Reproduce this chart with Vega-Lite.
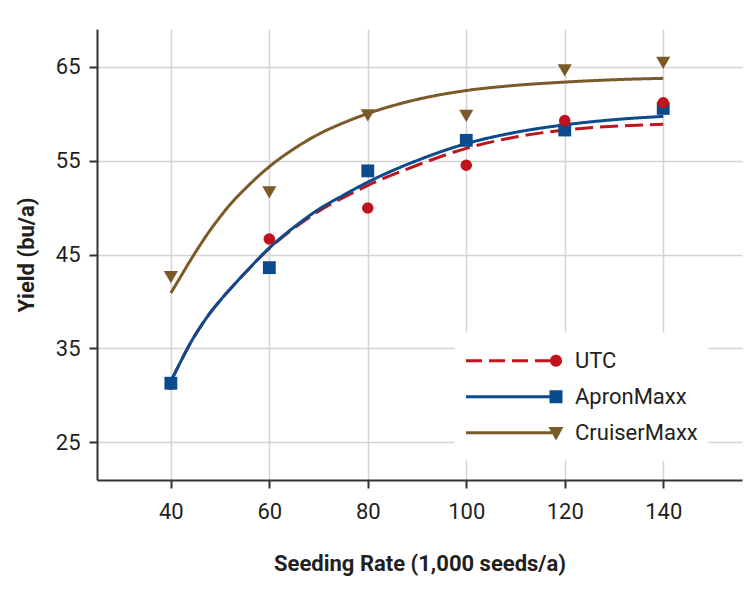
{
  "$schema": "https://vega.github.io/schema/vega-lite/v6.json",
  "width": 645,
  "height": 451,
  "autosize": {"type": "none"},
  "padding": {"left": 97, "top": 29, "right": 8, "bottom": 120},
  "background": "white",
  "datasets": {
    "curves": [
      {"rate": 40, "yield": 40.9, "series": "CruiserMaxx"},
      {"rate": 42, "yield": 42.65, "series": "CruiserMaxx"},
      {"rate": 44, "yield": 44.4, "series": "CruiserMaxx"},
      {"rate": 46, "yield": 46.05, "series": "CruiserMaxx"},
      {"rate": 48, "yield": 47.6, "series": "CruiserMaxx"},
      {"rate": 50, "yield": 49.0, "series": "CruiserMaxx"},
      {"rate": 52, "yield": 50.3, "series": "CruiserMaxx"},
      {"rate": 55, "yield": 51.95, "series": "CruiserMaxx"},
      {"rate": 60, "yield": 54.35, "series": "CruiserMaxx"},
      {"rate": 65, "yield": 56.25, "series": "CruiserMaxx"},
      {"rate": 70, "yield": 57.8, "series": "CruiserMaxx"},
      {"rate": 75, "yield": 59.0, "series": "CruiserMaxx"},
      {"rate": 80, "yield": 60.0, "series": "CruiserMaxx"},
      {"rate": 90, "yield": 61.5, "series": "CruiserMaxx"},
      {"rate": 100, "yield": 62.45, "series": "CruiserMaxx"},
      {"rate": 110, "yield": 63.0, "series": "CruiserMaxx"},
      {"rate": 120, "yield": 63.35, "series": "CruiserMaxx"},
      {"rate": 130, "yield": 63.6, "series": "CruiserMaxx"},
      {"rate": 140, "yield": 63.75, "series": "CruiserMaxx"},
      {"rate": 40, "yield": 31.5, "series": "UTC"},
      {"rate": 42, "yield": 33.6, "series": "UTC"},
      {"rate": 44, "yield": 35.6, "series": "UTC"},
      {"rate": 46, "yield": 37.3, "series": "UTC"},
      {"rate": 48, "yield": 38.8, "series": "UTC"},
      {"rate": 50, "yield": 40.1, "series": "UTC"},
      {"rate": 52, "yield": 41.3, "series": "UTC"},
      {"rate": 55, "yield": 43.0, "series": "UTC"},
      {"rate": 60, "yield": 45.65, "series": "UTC"},
      {"rate": 65, "yield": 47.8, "series": "UTC"},
      {"rate": 70, "yield": 49.6, "series": "UTC"},
      {"rate": 75, "yield": 51.05, "series": "UTC"},
      {"rate": 80, "yield": 52.35, "series": "UTC"},
      {"rate": 90, "yield": 54.5, "series": "UTC"},
      {"rate": 100, "yield": 56.3, "series": "UTC"},
      {"rate": 110, "yield": 57.5, "series": "UTC"},
      {"rate": 120, "yield": 58.25, "series": "UTC"},
      {"rate": 130, "yield": 58.65, "series": "UTC"},
      {"rate": 140, "yield": 58.85, "series": "UTC"},
      {"rate": 40, "yield": 31.5, "series": "ApronMaxx"},
      {"rate": 42, "yield": 33.6, "series": "ApronMaxx"},
      {"rate": 44, "yield": 35.6, "series": "ApronMaxx"},
      {"rate": 46, "yield": 37.3, "series": "ApronMaxx"},
      {"rate": 48, "yield": 38.8, "series": "ApronMaxx"},
      {"rate": 50, "yield": 40.1, "series": "ApronMaxx"},
      {"rate": 52, "yield": 41.3, "series": "ApronMaxx"},
      {"rate": 55, "yield": 43.0, "series": "ApronMaxx"},
      {"rate": 60, "yield": 45.7, "series": "ApronMaxx"},
      {"rate": 65, "yield": 47.9, "series": "ApronMaxx"},
      {"rate": 70, "yield": 49.8, "series": "ApronMaxx"},
      {"rate": 75, "yield": 51.3, "series": "ApronMaxx"},
      {"rate": 80, "yield": 52.7, "series": "ApronMaxx"},
      {"rate": 90, "yield": 55.0, "series": "ApronMaxx"},
      {"rate": 100, "yield": 56.8, "series": "ApronMaxx"},
      {"rate": 110, "yield": 58.0, "series": "ApronMaxx"},
      {"rate": 120, "yield": 58.8, "series": "ApronMaxx"},
      {"rate": 130, "yield": 59.35, "series": "ApronMaxx"},
      {"rate": 140, "yield": 59.7, "series": "ApronMaxx"}
    ],
    "points": [
      {"rate": 40, "yield": 42.6, "series": "CruiserMaxx"},
      {"rate": 60, "yield": 51.6, "series": "CruiserMaxx"},
      {"rate": 80, "yield": 59.8, "series": "CruiserMaxx"},
      {"rate": 100, "yield": 59.75, "series": "CruiserMaxx"},
      {"rate": 120, "yield": 64.6, "series": "CruiserMaxx"},
      {"rate": 140, "yield": 65.4, "series": "CruiserMaxx"},
      {"rate": 40, "yield": 31.2, "series": "UTC"},
      {"rate": 40, "yield": 31.3, "series": "ApronMaxx"},
      {"rate": 60, "yield": 43.6, "series": "ApronMaxx"},
      {"rate": 80, "yield": 53.9, "series": "ApronMaxx"},
      {"rate": 100, "yield": 57.15, "series": "ApronMaxx"},
      {"rate": 120, "yield": 58.25, "series": "ApronMaxx"},
      {"rate": 140, "yield": 60.55, "series": "ApronMaxx"},
      {"rate": 60, "yield": 46.65, "series": "UTC"},
      {"rate": 80, "yield": 49.95, "series": "UTC"},
      {"rate": 100, "yield": 54.5, "series": "UTC"},
      {"rate": 120, "yield": 59.25, "series": "UTC"},
      {"rate": 140, "yield": 61.15, "series": "UTC"}
    ]
  },
  "encoding": {
    "x": {
      "field": "rate", "type": "quantitative",
      "scale": {"domain": [25, 156], "nice": false, "zero": false},
      "axis": {
        "values": [40, 60, 80, 100, 120, 140],
        "labelPadding": 13,
        "title": "Seeding Rate (1,000 seeds/a)",
        "titleY": 90,
        "titleBaseline": "alphabetic"
      }
    },
    "y": {
      "field": "yield", "type": "quantitative",
      "scale": {"domain": [21, 69], "nice": false, "zero": false},
      "axis": {
        "values": [25, 35, 45, 55, 65],
        "labelPadding": 9,
        "title": "Yield (bu/a)",
        "titleX": -63.5,
        "titleY": 225.5,
        "titleBaseline": "alphabetic"
      }
    },
    "color": {
      "field": "series", "type": "nominal",
      "scale": {"domain": ["UTC", "ApronMaxx", "CruiserMaxx"], "range": ["#C0141C", "#0B4A8D", "#7A5A26"]},
      "legend": {
        "orient": "none",
        "legendX": 357.5,
        "legendY": 303.7,
        "direction": "vertical",
        "title": null,
        "fillColor": "white",
        "padding": 10,
        "symbolSize": 9216,
        "symbolStrokeWidth": 3,
        "clipHeight": 36,
        "rowPadding": 0,
        "labelOffset": 11.5,
        "labelFontSize": 22,
        "labelColor": "#231f20",
        "labelFont": "Roboto",
        "encode": {
          "symbols": {
            "update": {
              "shape": {"signal": "datum.value === 'UTC' ? 'M-1,0L-0.667,0M-0.521,0L-0.1875,0M-0.042,0L0.292,0M0.4375,0L0.75,0M0.781,0A0.094,0.094,0,1,0,0.969,0A0.094,0.094,0,1,0,0.781,0Z' : datum.value === 'ApronMaxx' ? 'M-1,0L0.8,0M0.771,-0.104L0.979,-0.104L0.979,0.104L0.771,0.104Z' : 'M-1,0L0.8,0M0.771,-0.09L0.979,-0.09L0.875,0.1Z'"},
              "fill": {"scale": "color", "field": "value"},
              "stroke": {"scale": "color", "field": "value"},
              "strokeWidth": {"value": 3},
              "strokeDash": {"value": [1, 0]},
              "opacity": {"value": 1},
              "size": {"value": 9216}
            }
          }
        }
      }
    }
  },
  "layer": [
    {
      "data": {"name": "curves"},
      "mark": {"type": "line", "interpolate": "monotone", "strokeWidth": 3},
      "encoding": {
        "strokeDash": {
          "condition": {"test": "datum.series === 'UTC'", "value": [18, 7]},
          "value": [1, 0]
        }
      }
    },
    {
      "data": {"name": "points"},
      "mark": {"type": "point", "filled": true, "opacity": 1, "strokeWidth": 0},
      "encoding": {
        "shape": {
          "condition": [
            {"test": "datum.series === 'UTC'", "value": "circle"},
            {"test": "datum.series === 'ApronMaxx'", "value": "square"}
          ],
          "value": "triangle-down"
        },
        "size": {
          "condition": [
            {"test": "datum.series === 'UTC'", "value": 135},
            {"test": "datum.series === 'ApronMaxx'", "value": 165}
          ],
          "value": 200
        }
      }
    }
  ],
  "config": {
    "view": {"stroke": null},
    "font": "Roboto",
    "axis": {
      "grid": true,
      "gridColor": "#d4d4d4",
      "gridWidth": 1.5,
      "domainColor": "#333333",
      "domainWidth": 2,
      "tickColor": "#333333",
      "tickWidth": 2,
      "tickSize": 8,
      "labelFontSize": 22,
      "labelColor": "#231f20",
      "labelFont": "Roboto",
      "titleFontSize": 22,
      "titleFontWeight": "bold",
      "titleColor": "#231f20",
      "titleFont": "Roboto"
    }
  }
}
